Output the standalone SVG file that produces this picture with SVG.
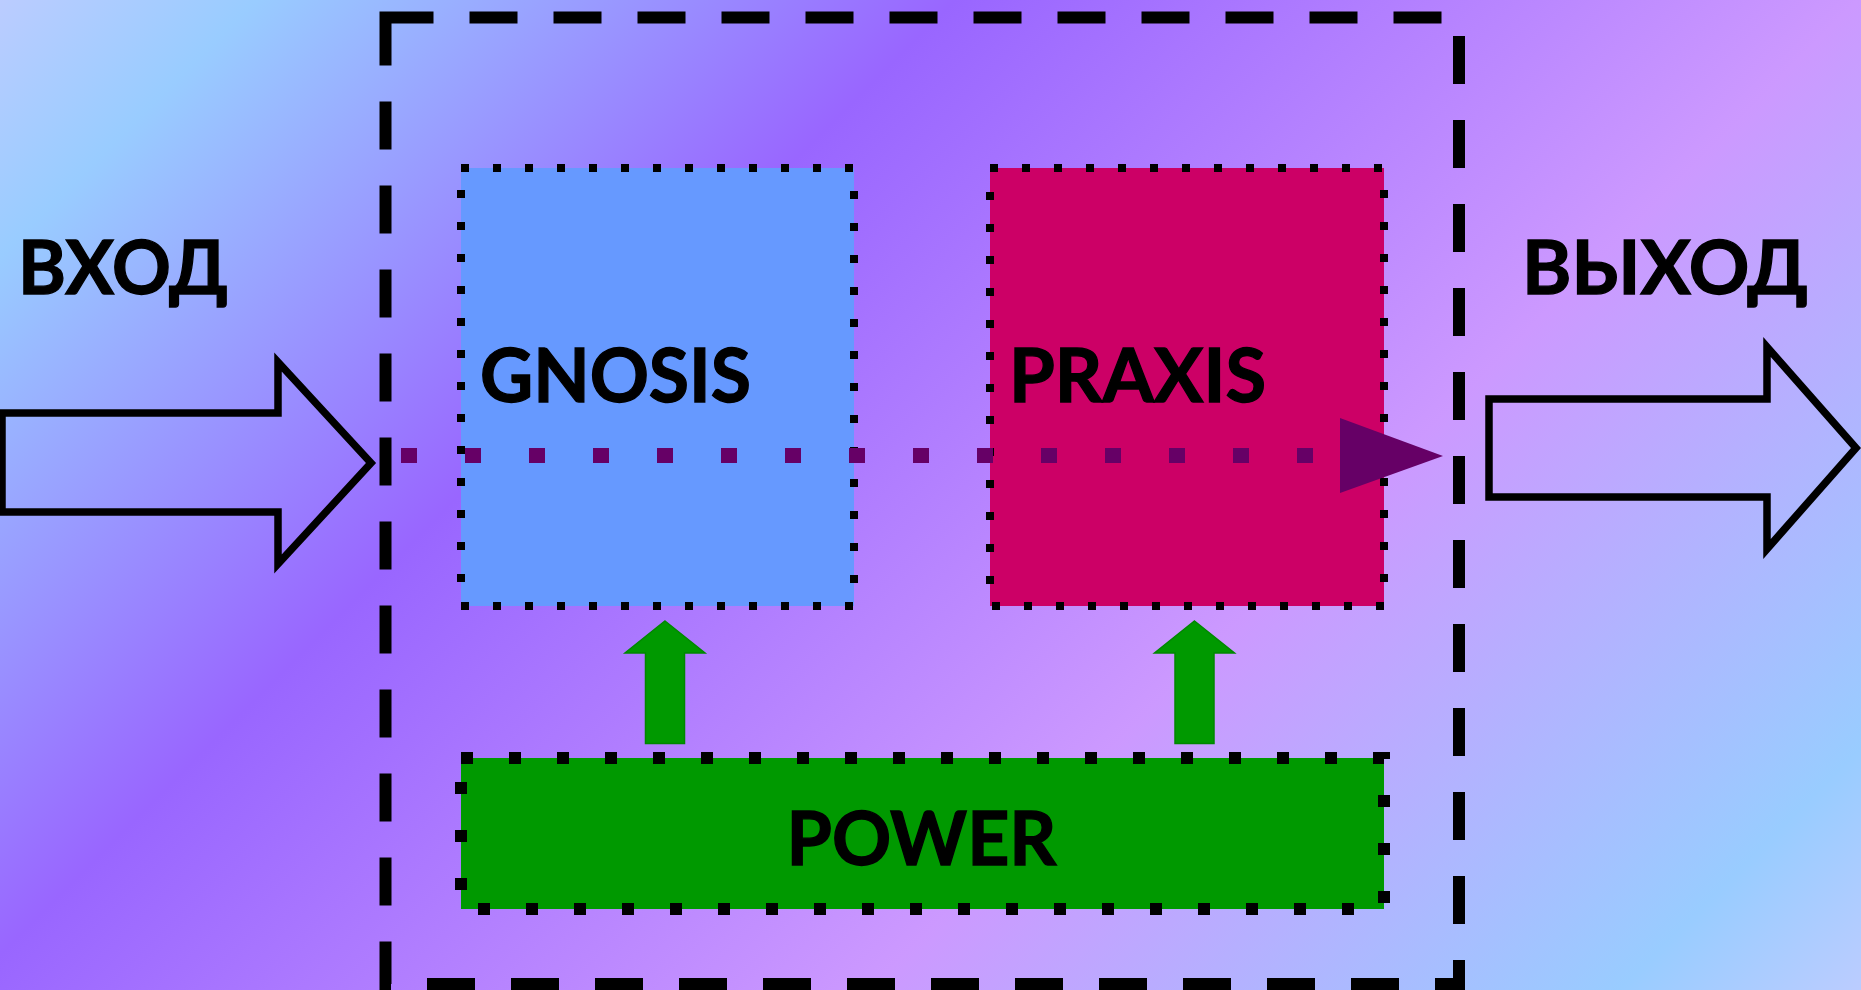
<svg xmlns="http://www.w3.org/2000/svg" width="1861" height="990" viewBox="0 0 1861 990">
<defs>
<linearGradient id="bg" gradientUnits="userSpaceOnUse" x1="0" y1="0" x2="1425.5" y2="1425.5">
<stop offset="0" stop-color="#BBCCFF"/>
<stop offset="0.09" stop-color="#99CCFF"/>
<stop offset="0.335" stop-color="#9966FF"/>
<stop offset="0.652" stop-color="#CC99FF"/>
<stop offset="0.915" stop-color="#99CCFF"/>
<stop offset="1" stop-color="#BBCCFF"/>
</linearGradient>
</defs>
<style>
.lbl{font-family:"Lato","Open Sans","Noto Sans",sans-serif;font-weight:700;font-size:75px;fill:#000;stroke:#000;stroke-width:1.3}
.thin{fill:none;stroke:#000;stroke-width:8;stroke-dasharray:8 24}
.thick{fill:none;stroke:#000;stroke-width:12;stroke-dasharray:12 36}
.blk{fill:none;stroke:#000;stroke-width:7.5;stroke-miterlimit:10}
.up{fill:#009900;stroke:#008800;stroke-width:1.5}
</style>
<rect x="0" y="0" width="1861" height="990" fill="url(#bg)"/>
<g id="system">
<rect x="385.5" y="17.5" width="1073.5" height="966.5" fill="none" stroke="#000" stroke-width="12" stroke-dasharray="48 36"/>
</g>
<g id="input">
<polygon class="blk" points="2,413 278,413 278,362 371,463 278,564 278,512 2,512"/>
<text class="lbl" x="18" y="294" textLength="210" lengthAdjust="spacingAndGlyphs">ВХОД</text>
</g>
<g id="output">
<polygon class="blk" points="1489,399 1767,399 1767,347 1856,448 1767,549 1767,497 1489,497"/>
<text class="lbl" x="1522" y="294" textLength="286" lengthAdjust="spacingAndGlyphs">ВЫХОД</text>
</g>
<g id="gnosis">
<rect x="461" y="168" width="393" height="438" fill="#6699FF"/>
<rect class="thin" x="461" y="168" width="393" height="438"/>
<text class="lbl" x="480" y="402" textLength="271" lengthAdjust="spacingAndGlyphs">GNOSIS</text>
</g>
<g id="praxis">
<rect x="990" y="168" width="394" height="438" fill="#CC0066"/>
<rect class="thin" x="990" y="168" width="394" height="438"/>
<text class="lbl" x="1009" y="402" textLength="257" lengthAdjust="spacingAndGlyphs">PRAXIS</text>
</g>
<g id="power">
<rect x="461" y="758" width="923" height="151" fill="#009900"/>
<rect class="thick" x="461" y="758" width="923" height="151"/>
<text class="lbl" x="786.5" y="865" textLength="270" lengthAdjust="spacingAndGlyphs">POWER</text>
</g>
<g id="connectors">
<polygon class="up" points="665,621 705,653 684.5,653 684.5,743.5 645.5,743.5 645.5,653 625,653"/>
<polygon class="up" points="1194.5,621 1234.5,653 1214,653 1214,743.5 1175,743.5 1175,653 1154.5,653"/>
<line x1="401" y1="455.5" x2="1340" y2="455.5" stroke="#660066" stroke-width="15" stroke-dasharray="16 48"/>
<polygon points="1340,418 1443,456 1340,493" fill="#660066"/>
</g>
</svg>
